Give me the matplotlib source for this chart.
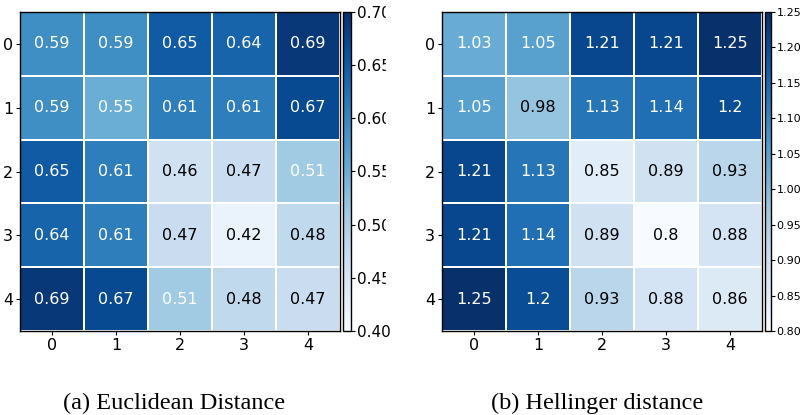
import matplotlib
matplotlib.use("Agg")
import matplotlib.pyplot as plt
import numpy as np

LABELS = ["0", "1", "2", "3", "4"]

EUCLID = [
    [0.59, 0.59, 0.65, 0.64, 0.69],
    [0.59, 0.55, 0.61, 0.61, 0.67],
    [0.65, 0.61, 0.46, 0.47, 0.51],
    [0.64, 0.61, 0.47, 0.42, 0.48],
    [0.69, 0.67, 0.51, 0.48, 0.47],
]
HELL = [
    [1.03, 1.05, 1.21, 1.21, 1.25],
    [1.05, 0.98, 1.13, 1.14, 1.2],
    [1.21, 1.13, 0.85, 0.89, 0.93],
    [1.21, 1.14, 0.89, 0.8, 0.88],
    [1.25, 1.2, 0.93, 0.88, 0.86],
]

W, H = 807, 415


def px(x0, y0, x1, y1):
    return [x0 / W, 1 - y1 / H, (x1 - x0) / W, (y1 - y0) / H]


def panel(fig, rect, crect, data, vmin, vmax, ticks, white_from, cfs):
    ax = fig.add_axes(rect)
    cax = fig.add_axes(crect)
    d = np.array(data)
    m = ax.pcolormesh(d, cmap="Blues", vmin=vmin, vmax=vmax,
                      edgecolors="white", linewidth=1.1)
    ax.set_xlim(0, 5)
    ax.set_ylim(5, 0)
    for i in range(5):
        for j in range(5):
            v = d[i, j]
            c = "white" if v >= white_from else "black"
            ax.text(j + 0.5, i + 0.5, str(v), ha="center", va="center",
                    fontsize=11.5, color=c)
    ax.set_xticks(np.arange(5) + 0.5)
    ax.set_yticks(np.arange(5) + 0.5)
    ax.set_xticklabels(LABELS, fontsize=11.5)
    ax.set_yticklabels(LABELS, fontsize=11.5)
    ax.tick_params(length=3, width=0.8, pad=2)
    for s in ax.spines.values():
        s.set_linewidth(1.0)
    cb = fig.colorbar(m, cax=cax, ticks=ticks)
    cb.outline.set_linewidth(1.0)
    cax.tick_params(labelsize=cfs, length=3, width=0.8, pad=1)
    cax.set_yticklabels([f"{t:.2f}" for t in ticks])
    return ax


fig = plt.figure(figsize=(W / 100, H / 100), dpi=100)

panel(fig, px(20, 12, 340, 331), px(343, 12, 351, 331), EUCLID,
      0.4, 0.7, [0.40, 0.45, 0.50, 0.55, 0.60, 0.65, 0.70], 0.5, 11)
panel(fig, px(442, 12, 762, 331), px(765, 12, 771, 331), HELL,
      0.8, 1.25, [0.80, 0.85, 0.90, 0.95, 1.00, 1.05, 1.10, 1.15, 1.20, 1.25],
      1.0, 8)

# the first colorbar's labels are cut off in the reference
fig.patches.append(plt.Rectangle((386 / W, 0.25), 34 / W, 0.75,
                                 transform=fig.transFigure,
                                 color="white", zorder=10))

fig.text(174 / W, 1 - 403 / H, "(a) Euclidean Distance", ha="center",
         va="center", fontsize=17.5, family="Liberation Serif")
fig.text(597 / W, 1 - 403 / H, "(b) Hellinger distance", ha="center",
         va="center", fontsize=17.5, family="Liberation Serif")

fig.savefig("out.png", dpi=100)
